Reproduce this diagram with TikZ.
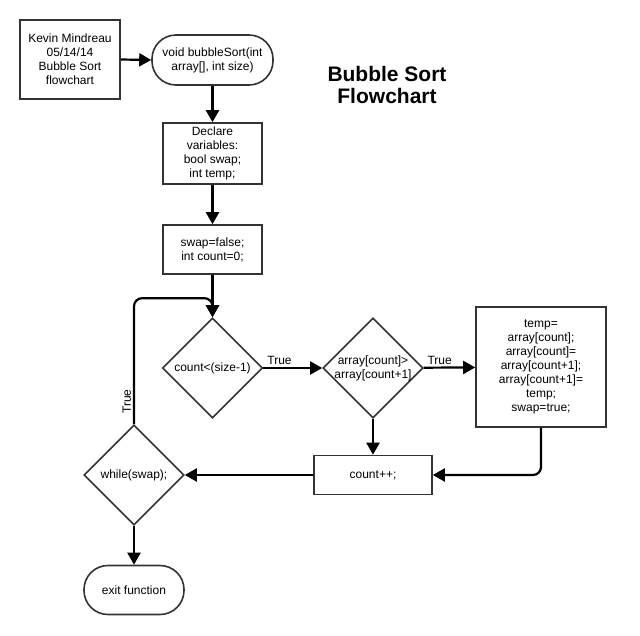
\documentclass[tikz,border=0pt]{standalone}
\usepackage{fontspec}
\setmainfont{Liberation Sans}
\usepackage{tikz}
\usetikzlibrary{shapes}
\usetikzlibrary{arrows.meta}
\usetikzlibrary{calc}
\tikzset{
	main node/.style={rectangle,draw=black!80,line width=1.6pt,font=\fontsize{12}{14}\selectfont,align=center,inner sep=2pt},
	term node/.style={main node,rounded corners=24pt},
	dec node/.style={main node,diamond,aspect=1,minimum width=100pt,minimum height=100pt,inner sep=-2pt},
	true label/.style={font=\fontsize{12}{14}\selectfont,inner sep=2pt}
}

\begin{document}
\begin{tikzpicture}[->,>={Triangle[length=12pt,width=13pt]},line width=2.2pt,x=1pt,y=1pt]
	\useasboundingbox (0,0) rectangle (640,-635);
	\node [main node,minimum width=100pt,minimum height=79pt] (1) at (70,-59.5) {Kevin Mindreau\\05/14/14\\Bubble Sort\\flowchart};
	\node [term node,minimum width=121pt,minimum height=50pt] (2) at (212.5,-60) {void bubbleSort(int\\array[], int size)};
	\node [font=\bfseries\fontsize{21}{22}\selectfont,align=center] (3) at (387,-85) {Bubble Sort\\Flowchart};
	\node [main node,minimum width=99pt,minimum height=61pt] (4) at (212.5,-153.5) {Declare\\variables:\\bool swap;\\int temp;};
	\node [main node,minimum width=99pt,minimum height=49pt] (5) at (212.5,-249.5) {swap=false;\\int count=0;};
	\node [dec node] (6) at (212.5,-368) {count<(size-1)};
	\node [dec node] (7) at (373,-368) {array[count]>\\array[count+1]};
	\node [main node,minimum width=130pt,minimum height=120pt] (8) at (541,-367) {temp=\\array[count];\\array[count]=\\array[count+1];\\array[count+1]=\\temp;\\swap=true;};
	\node [main node,minimum width=118pt,minimum height=39pt] (9) at (373,-475) {count++;};
	\node [dec node] (10) at (134,-475) {while(swap);};
	\node [term node,minimum width=100pt,minimum height=49pt] (11) at (134,-590) {exit function};
	\coordinate (12) at ($(6.north)+(0,19)$);

	\draw (1.east) -- (2.west);
	\draw (2) -- (4);
	\draw (4) -- (5);
	\draw (5) -- (6);
	\draw (6) -- node [true label,anchor=south west,pos=0,xshift=1pt] {True} (7);
	\draw (7) -- node [true label,anchor=south west,pos=0,xshift=1pt] {True} (8);
	\draw (7) -- (9);
	\draw [rounded corners=8pt] (8) |- (9);
	\draw (9) -- (10);
	\draw [rounded corners=8pt] (10) |- node [true label,pos=0.09,sloped,above] {True} (12) -- (6);
	\draw (10) -- (11);
\end{tikzpicture}
\end{document}
